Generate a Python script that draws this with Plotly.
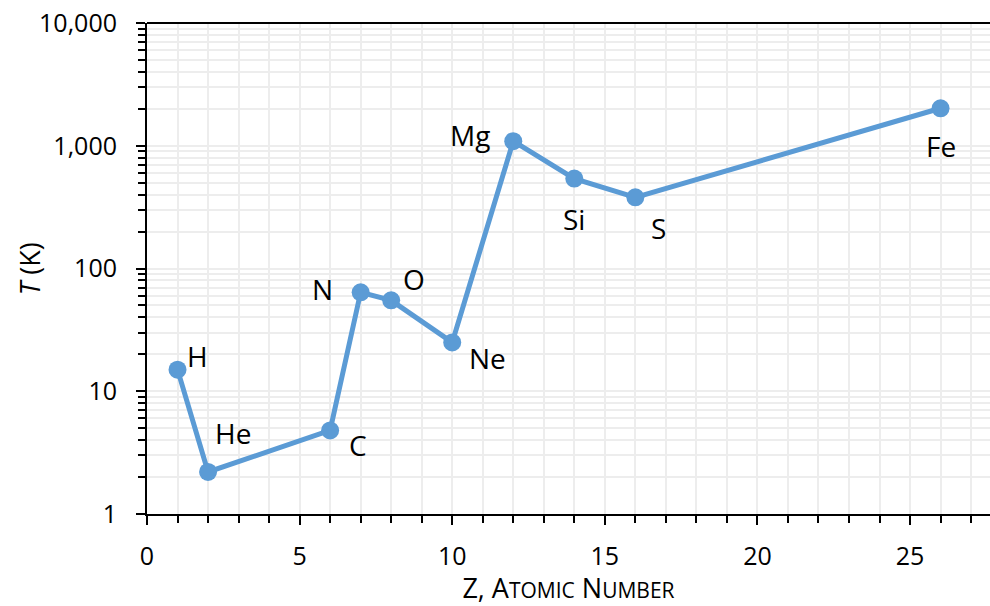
import math
import plotly.graph_objects as go

elements = ["H", "He", "C", "N", "O", "Ne", "Mg", "Si", "S", "Fe"]
z_values = [1, 2, 6, 7, 8, 10, 12, 14, 16, 26]
temps = [15, 2.2, 4.8, 64, 55, 25, 1090, 540, 380, 2020]
# label offsets from each point (pixels: dx right, dy up)
label_dx = [20, 25, 28, -38, 23, 35, -43, 0, 23, 0]
label_dy = [14, 39, -15, 3, 21, -16, 6, -40, -31, -38]
y_tickvals = [1, 10, 100, 1000, 10000]
y_ticktext = ["1", "10", "100", "1,000", "10,000"]
x_tickvals = [0, 5, 10, 15, 20, 25]

FONT = "Open Sans"
BLUE = "#5B9BD5"
GRID = "#EDEDED"

y_minor = [m * d for d in y_tickvals[:-1] for m in range(2, 10)]

fig = go.Figure()
fig.add_trace(go.Scatter(
    x=z_values, y=temps, mode="lines+markers",
    line=dict(color=BLUE, width=5),
    marker=dict(color=BLUE, size=18),
    cliponaxis=False, showlegend=False,
))
for el, zv, tv, dx, dy in zip(elements, z_values, temps, label_dx, label_dy):
    fig.add_annotation(x=zv, y=math.log10(tv), text=el, showarrow=False,
                       xshift=dx, yshift=dy, xanchor="center", yanchor="middle",
                       font=dict(family=FONT, size=28, color="black"))

# y-axis title as rotated annotation
fig.add_annotation(xref="paper", yref="paper", x=-0.139, y=0.5, text="<i>T</i> (K)",
                   textangle=-90, showarrow=False, xanchor="center", yanchor="middle",
                   font=dict(family=FONT, size=27, color="black"))

fig.update_layout(
    width=990, height=606,
    margin=dict(l=147, r=0, t=23, b=92),
    plot_bgcolor="white", paper_bgcolor="white",
    font=dict(family=FONT, color="black"),
)
fig.update_xaxes(
    range=[0, 27.62], tickvals=x_tickvals,
    tickfont=dict(family=FONT, size=25, color="black"),
    ticks="outside", ticklen=9, tickwidth=2, tickcolor="black",
    ticklabelstandoff=10,
    showline=True, linecolor="black", linewidth=2,
    showgrid=True, gridcolor=GRID, gridwidth=2,
    minor=dict(dtick=1, ticks="outside", ticklen=7, tickwidth=2, tickcolor="black",
               showgrid=True, gridcolor=GRID, gridwidth=2),
    zeroline=False,
    title=dict(text="Z, A<span style='font-size:21px'>TOMIC</span> N<span style='font-size:21px'>UMBER</span>",
               font=dict(family=FONT, size=27, color="black"), standoff=16),
)
fig.update_yaxes(
    type="log", range=[0, 4], tickvals=y_tickvals, ticktext=y_ticktext,
    tickfont=dict(family=FONT, size=25, color="black"),
    ticks="outside", ticklen=9, tickwidth=2, tickcolor="black",
    ticklabelstandoff=14,
    showline=True, linecolor="black", linewidth=2,
    showgrid=True, gridcolor=GRID, gridwidth=2,
    minor=dict(tickvals=y_minor, ticks="outside", ticklen=7, tickwidth=2, tickcolor="black",
               showgrid=True, gridcolor=GRID, gridwidth=2),
    zeroline=False,
)
fig.add_shape(type="line", xref="paper", yref="paper", x0=0, x1=1, y0=1, y1=1,
              line=dict(color="black", width=2))

fig.write_html("out.html")
